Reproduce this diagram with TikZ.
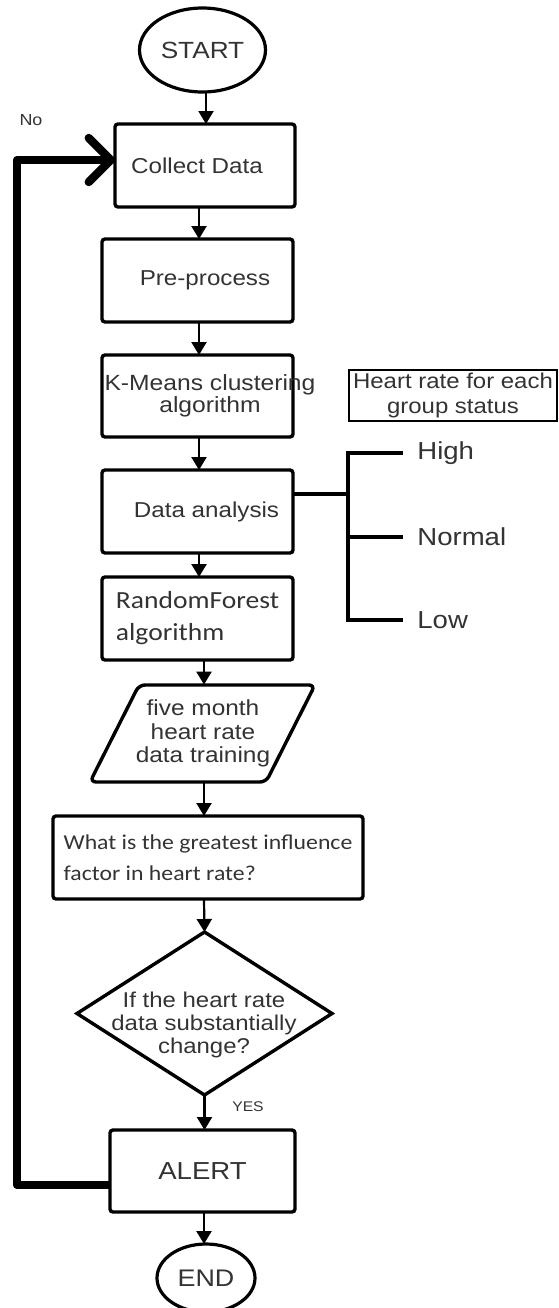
\documentclass[tikz,border=0pt]{standalone}
\usepackage{fontspec}
\setmainfont{Liberation Sans}[FakeStretch=1.12]
\newfontfamily\humanist{Carlito}[FakeStretch=1.12]
\usetikzlibrary{shapes.geometric,arrows.meta}

\begin{document}
\begin{tikzpicture}[x=0.5pt,y=-0.5pt,
  every node/.style={text=black!80},
  flowbox/.style={draw=black, line width=1.7pt, rounded corners=1.5pt,
    inner sep=0pt, outer sep=0pt, minimum width=95.5pt, minimum height=41.5pt,
    font=\fontsize{10.8}{13}\selectfont},
  terminal/.style={draw=black, ellipse, line width=1.6pt, inner sep=0pt, outer sep=0pt},
  flow/.style={line width=1.1pt, -{Triangle[length=6.5pt,width=7.5pt]}},
  loopback/.style={line width=4.2pt, line join=round,
    -{Straight Barb[length=11pt,width=22pt,round]}},
  branch/.style={line width=1.6pt},
  level/.style={anchor=west, inner xsep=7pt, inner ysep=0pt,
    font=\fontsize{12.3}{14}\selectfont},
]
\useasboundingbox (0,0) rectangle (558,1308);

% columns and helper points for the connectors
\coordinate (colS) at (206,0);
\coordinate (colA) at (199,0);
\coordinate (colB) at (204,0);
\coordinate (barx) at (348,0);
\coordinate (loopx) at (17,600);

% main flow
\node[terminal, minimum width=63pt, minimum height=42pt,
  font=\fontsize{11.7}{14}\selectfont] (start) at (202.5,50) {START};
\node[flowbox, minimum width=90pt] (collect) at (205,165.5) {Collect Data\hspace*{8pt}};
\node[flowbox] (pre) at (197.5,280.5) {\hspace*{7.5pt}Pre-process};
\node[flowbox, minimum height=41pt] (kmeans) at (197.5,396) {};
\node[align=center, inner sep=0pt, font=\fontsize{11}{11}\selectfont]
  (kmtext) at (210,396) {K-Means clustering\\algorithm};
\node[draw=black, line width=1.1pt, inner sep=0pt, minimum width=104pt,
  minimum height=25.5pt, align=center, font=\fontsize{10.7}{12.5}\selectfont]
  (status) at (453,395.5) {Heart rate for each\\group status};
\node[flowbox] (analysis) at (197.5,511.5) {\hspace*{9pt}Data analysis};
\node[flowbox, align=left, font=\humanist\fontsize{12.3}{16}\selectfont]
  (forest) at (197.5,618.5) {RandomForest\\algorithm};

% input/output parallelogram
\draw[line width=1.7pt, rounded corners=3pt]
  (90,782) -- (139,685) -- (315,685) -- (266,782) -- cycle;
\node[inner sep=0pt, minimum height=48.5pt, align=center,
  font=\fontsize{10.9}{11.75}\selectfont]
  (data) at (203,733.5) {five month\\heart rate\\data training};

\node[flowbox, minimum width=155pt, align=left,
  font=\humanist\fontsize{10.6}{15.5}\selectfont]
  (factor) at (208,857.5) {What is the greatest influence\\factor in heart rate?};

% decision
\node[draw=black, diamond, line width=1.7pt, inner sep=0pt, outer sep=0pt,
  minimum width=127.5pt, minimum height=81.5pt] (check) at (204.5,1013.5) {};
\node[align=center, inner sep=0pt, font=\fontsize{10.7}{11.5}\selectfont]
  (checktext) at (204,1025) {If the heart rate\\data substantially\\change?};

\node[flowbox, minimum width=92.5pt, minimum height=41pt,
  font=\fontsize{12.3}{14}\selectfont] (alert) at (202.5,1171) {ALERT};
\node[terminal, minimum width=49pt, minimum height=34pt,
  font=\fontsize{12}{14}\selectfont] (end) at (206,1278) {END};

% edge labels
\node[inner sep=0pt, font=\fontsize{8}{9}\selectfont] (no) at (31,120) {No};
\node[inner sep=0pt, font=\fontsize{7}{8}\selectfont] (yes) at (248,1107) {YES};

% status levels
\node[level] (high) at (403,453) {High};
\node[level] (normal) at (403,537) {Normal};
\node[level] (low) at (403,620) {Low};

% vertical connectors
\draw[flow] (start.south -| colS) -- (collect.north -| colS);
\draw[flow] (collect.south -| colA) -- (pre.north -| colA);
\draw[flow] (pre.south -| colA) -- (kmeans.north -| colA);
\draw[flow] (kmeans.south -| colA) -- (analysis.north -| colA);
\draw[flow] (analysis.south -| colA) -- (forest.north -| colA);
\draw[flow] (forest.south -| colB) -- (data.north -| colB);
\draw[flow] (data.south -| colB) -- (factor.north -| colB);
\draw[flow] (factor.south -| colB) -- (check.north);
\draw[flow] (check.south) -- (alert.north -| check.south);
\draw[flow] (alert.south -| colB) -- (end.north -| colB);

% bracket from the analysis step to the levels
\coordinate (tap) at ([yshift=8.75pt]analysis.east);
\draw[branch] (tap) -- (tap -| barx);
\draw[branch] (high.west) -- (high.west -| barx) -- (low.west -| barx) -- (low.west);
\draw[branch] (normal.west) -- (normal.west -| barx);

% loop back to data collection
\coordinate (loopfrom) at ([yshift=-7pt]alert.west);
\coordinate (loopto) at ([yshift=2.75pt]collect.west);
\draw[loopback] (loopfrom) -| (loopx) |- (loopto);
\end{tikzpicture}
\end{document}
